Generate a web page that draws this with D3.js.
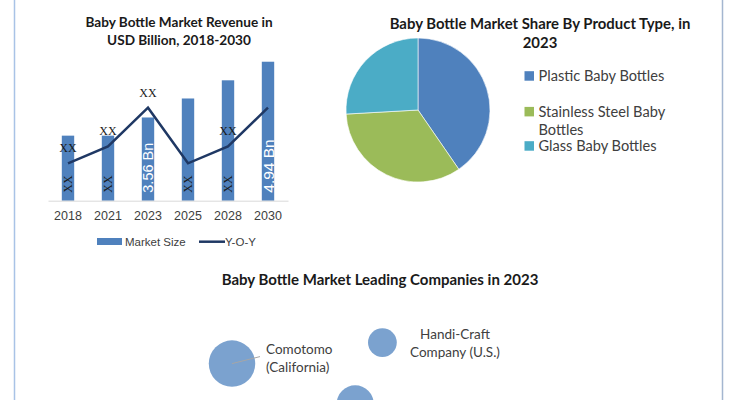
<!DOCTYPE html>
<html>
<head>
<meta charset="utf-8">
<script src="https://cdn.jsdelivr.net/npm/d3@7"></script>
<style>
  body { margin: 0; background: #fff; }
</style>
</head>
<body>
<div id="chart"></div>
<script>
// bar + line chart
const years = ["2018", "2021", "2023", "2025", "2028", "2030"];
const marketSize = [3.11, 3.11, 3.56, 4.03, 4.48, 4.94];
const yoy = [2.0, 3.0, 5.3, 2.0, 3.0, 5.3];
const barLabels = ["XX", "XX", "3.56 Bn", "XX", "XX", "4.94 Bn"];
const yoyLabels = ["XX", "XX", "XX", "", "XX", ""];

// pie
const productTypes = ["Plastic Baby Bottles", "Stainless Steel Baby Bottles", "Glass Baby Bottles"];
const productShare = [40.4, 33.7, 25.9];

// bubbles
const companyLines = [["Comotomo", "(California)"], ["Handi-Craft", "Company (U.S.)"], []];
const companyX = [1.0, 5.7, 4.85];
const companyY = [4.7, 6.45, 1.35];
const companySize = [60, 23, 38];

const width = 735, height = 400;
const calibri = "Lato, 'Open Sans', sans-serif";
const arial = "'Liberation Sans', Arial, sans-serif";

const svg = d3.select("#chart")
   .append("svg")
   .attr("width", width)
   .attr("height", height)
   .style("display", "block");

// frame lines left & right
svg.append("line").attr("x1", 14.5).attr("x2", 14.5).attr("y1", 0).attr("y2", height)
   .attr("stroke", "#a9c3e6").attr("stroke-width", 1.5);
svg.append("line").attr("x1", 722.5).attr("x2", 722.5).attr("y1", 0).attr("y2", height)
   .attr("stroke", "#a4b6d0").attr("stroke-width", 1.5);

// ---------- bar chart ----------
const x = d3.scaleBand().domain(years).range([48, 288]).paddingInner(0.69).paddingOuter(0.345);
const y = d3.scaleLinear().domain([1.5, 5]).range([200.7, 59.3]);
const y2 = d3.scaleLinear().domain([0, 8]).range([197, 62.2]);

const bt = svg.append("text")
   .attr("text-anchor", "middle")
   .attr("font-family", calibri)
   .attr("font-weight", "bold")
   .attr("font-size", "13.6px")
   .attr("fill", "#1a1a1a");
bt.append("tspan").attr("x", 179).attr("y", 27).text("Baby Bottle Market Revenue in");
bt.append("tspan").attr("x", 179).attr("y", 45).text("USD Billion, 2018-2030");

svg.selectAll(".bar")
   .data(marketSize)
   .enter()
   .append("rect")
   .attr("class", "bar")
   .attr("x", (d, i) => x(years[i]))
   .attr("width", x.bandwidth())
   .attr("y", d => y(d))
   .attr("height", d => y(1.5) - y(d))
   .attr("fill", "#4f81bd");

// axis baseline + ticks
const xAxis = svg.append("g")
   .attr("transform", "translate(0," + y(1.5) + ")")
   .call(d3.axisBottom(x).tickSize(0).tickPadding(10));
xAxis.select(".domain").attr("stroke", "#d9d9d9");
xAxis.selectAll("text")
   .attr("font-family", arial)
   .attr("font-size", "12.5px")
   .attr("fill", "#404040");

// bar data labels (rotated, at base)
svg.selectAll(".blabel")
   .data(barLabels)
   .enter()
   .append("text")
   .attr("class", "blabel")
   .attr("transform", (d, i) => "translate(" + (x(years[i]) + x.bandwidth() / 2) + "," + (y(1.5) - 8) + ") rotate(-90)")
   .attr("dy", "0.36em")
   .attr("font-family", d => d === "XX" ? "'Liberation Serif', serif" : arial)
   .attr("font-size", (d, i) => d === "XX" ? "12px" : (i === 5 ? "15.5px" : "14.5px"))
   .attr("fill", d => d === "XX" ? "#1a1a1a" : "#fff")
   .text(d => d);

// Y-O-Y line
const line = d3.line()
   .x((d, i) => x(years[i]) + x.bandwidth() / 2)
   .y(d => y2(d));
svg.append("path")
   .datum(yoy)
   .attr("d", line)
   .attr("fill", "none")
   .attr("stroke", "#1f3864")
   .attr("stroke-width", 2.5);

svg.selectAll(".ylabel")
   .data(yoyLabels)
   .enter()
   .append("text")
   .attr("class", "ylabel")
   .attr("x", (d, i) => x(years[i]) + x.bandwidth() / 2)
   .attr("y", (d, i) => y2(yoy[i]) - 11)
   .attr("text-anchor", "middle")
   .attr("font-family", "'Liberation Serif', serif")
   .attr("font-size", "12px")
   .attr("fill", "#1a1a1a")
   .text(d => d);

// legend
const lg = svg.append("g").attr("font-family", arial).attr("font-size", "11.5px").attr("fill", "#404040");
lg.append("rect").attr("x", 97).attr("y", 238).attr("width", 25).attr("height", 7).attr("fill", "#4f81bd");
lg.append("text").attr("x", 125).attr("y", 245.5).text("Market Size");
lg.append("line").attr("x1", 199).attr("x2", 225).attr("y1", 241.7).attr("y2", 241.7)
   .attr("stroke", "#1f3864").attr("stroke-width", 2.5);
lg.append("text").attr("x", 225).attr("y", 245.5).text("Y-O-Y");

// ---------- pie ----------
const pieColor = d3.scaleOrdinal().domain(productTypes).range(["#4f81bd", "#9bbb59", "#4bacc6"]);
const pie = d3.pie().sort(null);
const arc = d3.arc().innerRadius(0).outerRadius(72);

const pt = svg.append("text")
   .attr("text-anchor", "middle")
   .attr("font-family", calibri)
   .attr("font-weight", "bold")
   .attr("font-size", "14.9px")
   .attr("fill", "#1a1a1a");
pt.append("tspan").attr("x", 540).attr("y", 29).text("Baby Bottle Market Share By Product Type, in");
pt.append("tspan").attr("x", 540).attr("y", 48).text("2023");

const pg = svg.append("g").attr("transform", "translate(418,110)");
pg.selectAll("path")
   .data(pie(productShare))
   .enter()
   .append("path")
   .attr("d", arc)
   .attr("fill", (d, i) => pieColor(productTypes[i]))
   .attr("stroke", "#fff")
   .attr("stroke-width", 0.6);

const legendRows = [[["Plastic Baby Bottles"], 76], [["Stainless Steel Baby", "Bottles"], 111.7], [["Glass Baby Bottles"], 146]];
const pl = svg.append("g").attr("font-family", calibri).attr("font-size", "14.6px").attr("fill", "#404040");
legendRows.forEach((r, i) => {
   pl.append("rect").attr("x", 524.5).attr("y", r[1] - 4.8).attr("width", 9.5).attr("height", 9.5)
      .attr("fill", pieColor(productTypes[i]));
   r[0].forEach((t, j) => {
      pl.append("text").attr("x", 538.5).attr("y", r[1] + 5 + j * 18.5).text(t);
   });
});

// ---------- bubbles ----------
svg.append("text")
   .attr("x", 380).attr("y", 284.5)
   .attr("text-anchor", "middle")
   .attr("font-family", calibri)
   .attr("font-weight", "bold")
   .attr("font-size", "15px")
   .attr("fill", "#1a1a1a")
   .text("Baby Bottle Market Leading Companies in 2023");

const bx = d3.scaleLinear().domain([0, 10]).range([200, 520]);
const by = d3.scaleLinear().domain([0, 10]).range([420, 300]);
const br = d3.scaleSqrt().domain([0, 100]).range([0, 30]);

svg.selectAll(".bubble")
   .data(companySize)
   .enter()
   .append("circle")
   .attr("class", "bubble")
   .attr("cx", (d, i) => bx(companyX[i]))
   .attr("cy", (d, i) => by(companyY[i]))
   .attr("r", d => br(d))
   .attr("fill", "#7ba2cf");

// leader line for Comotomo
svg.append("line")
   .attr("x1", bx(companyX[0])).attr("y1", by(companyY[0]))
   .attr("x2", bx(companyX[0]) + 28).attr("y2", by(companyY[0]) - 7)
   .attr("stroke", "#a6a6a6").attr("stroke-width", 1);

const cl = svg.append("g").attr("font-family", calibri).attr("font-size", "13.5px").attr("fill", "#404040");
const c0 = cl.append("text").attr("text-anchor", "start");
companyLines[0].forEach((t, j) => c0.append("tspan").attr("x", 266).attr("y", 353.5 + j * 18.5).text(t));
const c1 = cl.append("text").attr("text-anchor", "middle");
companyLines[1].forEach((t, j) => c1.append("tspan").attr("x", 455).attr("y", 338.5 + j * 18.5).text(t));
</script>
</body>
</html>
